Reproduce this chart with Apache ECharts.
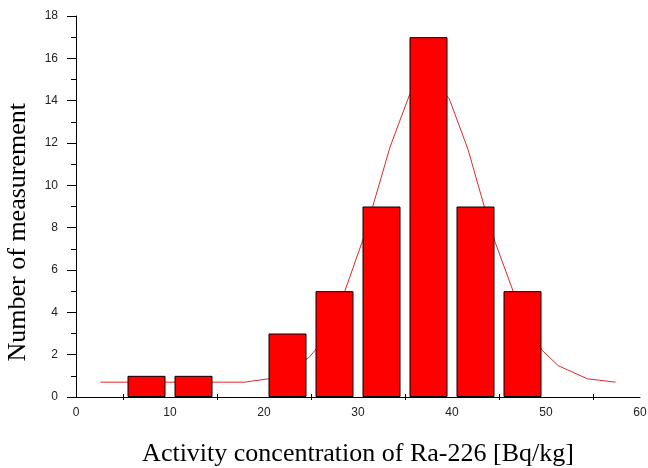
<!DOCTYPE html>
<html>
<head>
<meta charset="utf-8">
<script src="https://cdn.jsdelivr.net/npm/echarts@6/dist/echarts.min.js"></script>
<style>
  html, body { margin: 0; padding: 0; background: #fff; }
  #chart { width: 648px; height: 468px; }
</style>
</head>
<body>
<div id="chart"></div>
<script>
// histogram bins (centre of each bin) and counts
const binCenters = [7.5, 12.5, 22.5, 27.5, 32.5, 37.5, 42.5, 47.5];
const counts = [1, 1, 3, 5, 9, 17, 9, 5];

// fitted curve
const curveX = [2.6, 17.9, 17.9, 20.5, 22.7, 24.8, 25.6, 28.6, 30.5, 31.5, 33.4, 35.5, 37.5,
  39.7, 41.7, 43.5, 44.6, 46.5, 48, 49.6, 51.3, 53.2, 54.4, 55.7, 57.4];
const curveY = [0.7, 0.7, 0.76, 0.86, 1.3, 1.87, 2.3, 5.0, 7.4, 8.9, 11.8, 14.3, 15.2,
  14.1, 11.7, 8.9, 7.3, 5.0, 3.4, 2.2, 1.48, 1.1, 0.86, 0.79, 0.7];

const xTicks = [0, 10, 20, 30, 40, 50, 60];

const chart = echarts.init(document.getElementById("chart"));

const tickLabel = {
  fontFamily: "Arial, Liberation Sans, sans-serif",
  fontSize: 12,
  color: "#222"
};

chart.setOption({
  animation: false,
  grid: { left: 76, right: 8, top: 16, bottom: 71, outerBoundsMode: "none" },
  xAxis: [
    {
      type: "value",
      min: xTicks[0],
      max: xTicks[xTicks.length - 1],
      interval: 10,
      splitLine: { show: false },
      axisLine: { lineStyle: { color: "#000", width: 1 } },
      axisTick: { show: false },
      minorTick: { show: true, splitNumber: 2, length: 3, lineStyle: { color: "#000" } },
      axisLabel: Object.assign({ margin: 10 }, tickLabel),
      name: "Activity concentration of Ra-226 [Bq/kg]",
      nameLocation: "middle",
      nameGap: 44,
      nameMoveOverlap: false,
      nameTextStyle: {
        fontFamily: "Liberation Serif, Times New Roman, serif",
        fontSize: 26,
        color: "#000"
      }
    },
    {
      type: "value",
      min: xTicks[0],
      max: xTicks[xTicks.length - 1],
      interval: 10,
      position: "bottom",
      splitLine: { show: false },
      axisLine: { show: false },
      axisLabel: { show: false },
      axisTick: { show: false, inside: true },
      minorTick: { show: true, splitNumber: 2, length: 3, lineStyle: { color: "#000" } }
    }
  ],
  yAxis: {
    type: "value",
    min: 0,
    max: 18,
    interval: 2,
    splitLine: { show: false },
    axisLine: { show: true, lineStyle: { color: "#000", width: 1 } },
    axisTick: { show: true, length: 9, lineStyle: { color: "#000" } },
    minorTick: { show: true, splitNumber: 2, length: 5, lineStyle: { color: "#000" } },
    axisLabel: Object.assign({ margin: 18 }, tickLabel)
  },
  graphic: [
    {
      type: "text",
      left: 5,
      top: 103,
      rotation: Math.PI / 2,
      style: {
        text: "Number of measurement",
        fontFamily: "Liberation Serif, Times New Roman, serif",
        fontSize: 26,
        fill: "#000"
      }
    }
  ],
  series: [
    {
      type: "line",
      data: curveX.map((x, i) => [x, curveY[i]]),
      symbol: "none",
      lineStyle: { color: "#dd2a2a", width: 1 },
      z: 1
    },
    {
      type: "bar",
      data: binCenters.map((x, i) => [x, counts[i]]),
      barWidth: 38,
      itemStyle: { color: "#ff0000", borderColor: "#000", borderWidth: 1 },
      z: 2
    }
  ]
});
</script>
</body>
</html>
